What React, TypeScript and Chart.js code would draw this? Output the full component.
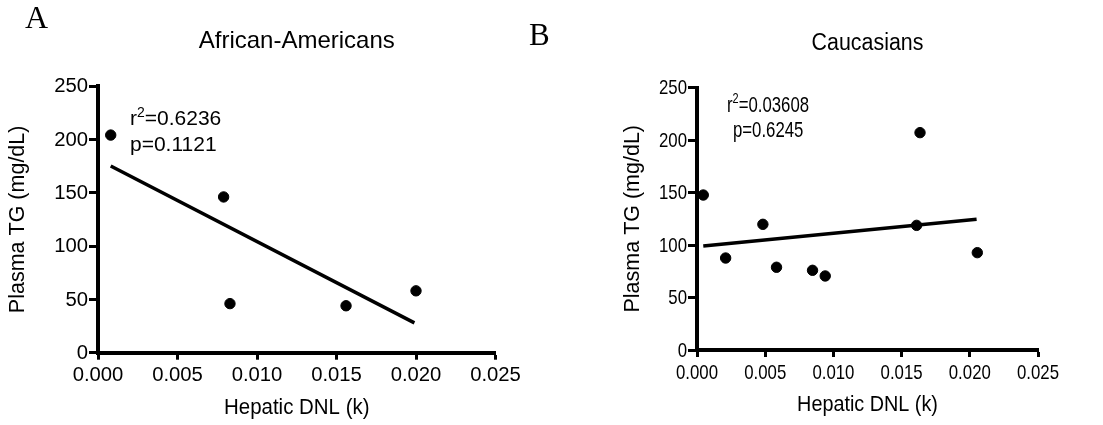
import React, { useEffect, useRef } from "react";
import { Chart, registerables } from "chart.js";

Chart.register(...registerables);

// ---- data ----
const xTickValues = [0, 0.005, 0.01, 0.015, 0.02, 0.025];
const yTickValues = [0, 50, 100, 150, 200, 250];

// Panel A: African-Americans
const aaDnl = [0.0008, 0.0079, 0.0083, 0.0156, 0.02];
const aaTg = [204, 146, 46, 44, 58];
const aaFitDnl = [0.0008, 0.0199];
const aaFitTg = [175, 28];

// Panel B: Caucasians
const caDnl = [0.00046, 0.0021, 0.00483, 0.00583, 0.00847, 0.0094, 0.0161, 0.01635, 0.02055];
const caTg = [147.6, 87.6, 119.7, 78.8, 75.9, 70.5, 118.7, 207, 92.7];
const caFitDnl = [0.00046, 0.0205];
const caFitTg = [99, 124.5];

const SANS = '"Liberation Sans", Arial, Helvetica, sans-serif';
const SERIF = '"Liberation Serif", "Times New Roman", serif';

type PanelCfg = {
  width: number;
  height: number;
  areaLeft: number;
  areaRight: number;
  areaTop: number;
  areaBottom: number;
  dnl: number[];
  tg: number[];
  fitDnl: number[];
  fitTg: number[];
  letter: string;
  letterX: number;
  letterY: number;
  letterSize: number;
  title: string;
  titleY: number;
  titleSize: number;
  titleSX: number;
  xTitle: string;
  xTitleY: number;
  xTitleSize: number;
  xTitleSX: number;
  yTitle: string;
  yTitleX: number;
  yTitleSize: number;
  tickSize: number;
  tickSX: number;
  r2: string;
  p: string;
  annX: number;
  annY1: number;
  annPX: number;
  annY2: number;
  annSize: number;
  annSX: number;
};

// draw text squeezed horizontally by sx, anchored according to align
function squeezeText(
  ctx: CanvasRenderingContext2D,
  text: string,
  x: number,
  y: number,
  sx: number,
  align: CanvasTextAlign
) {
  ctx.save();
  ctx.translate(x, y);
  ctx.scale(sx, 1);
  ctx.textAlign = align;
  ctx.fillText(text, 0, 0);
  ctx.restore();
}

function makeTextPlugin(c: PanelCfg) {
  return {
    id: "panelText",
    afterDraw(chart: any) {
      const ctx = chart.ctx as CanvasRenderingContext2D;
      const a = chart.chartArea;
      const cx = (a.left + a.right) / 2;
      const cy = (a.top + a.bottom) / 2;
      ctx.save();
      ctx.fillStyle = "#000";
      ctx.textBaseline = "alphabetic";
      // panel letter
      ctx.font = `${c.letterSize}px ${SERIF}`;
      squeezeText(ctx, c.letter, c.letterX, c.letterY, 1, "left");
      // title
      ctx.font = `${c.titleSize}px ${SANS}`;
      squeezeText(ctx, c.title, cx, c.titleY, c.titleSX, "center");
      // x axis title
      ctx.font = `${c.xTitleSize}px ${SANS}`;
      squeezeText(ctx, c.xTitle, cx, c.xTitleY, c.xTitleSX, "center");
      // y axis title
      ctx.save();
      ctx.font = `${c.yTitleSize}px ${SANS}`;
      ctx.translate(c.yTitleX, cy);
      ctx.rotate(-Math.PI / 2);
      ctx.textBaseline = "middle";
      ctx.textAlign = "center";
      ctx.fillText(c.yTitle, 0, 0);
      ctx.restore();
      // tick labels, placed by the chart's own scales
      const xs = chart.scales.x;
      const ys = chart.scales.y;
      ctx.font = `${c.tickSize}px ${SANS}`;
      ctx.textBaseline = "alphabetic";
      const xLabY = a.bottom + 9 + c.tickSize * 0.72 + 5;
      xs.ticks.forEach((t: any) => {
        squeezeText(ctx, Number(t.value).toFixed(3), xs.getPixelForValue(t.value), xLabY, c.tickSX, "center");
      });
      ctx.textBaseline = "middle";
      ys.ticks.forEach((t: any) => {
        squeezeText(ctx, String(t.value), a.left - 10, ys.getPixelForValue(t.value) + 1, c.tickSX, "right");
      });
      // annotation r^2 / p
      ctx.textBaseline = "alphabetic";
      ctx.save();
      ctx.translate(c.annX, c.annY1);
      ctx.scale(c.annSX, 1);
      ctx.textAlign = "left";
      ctx.font = `${c.annSize}px ${SANS}`;
      let x = 0;
      ctx.fillText("r", x, 0);
      x += ctx.measureText("r").width;
      ctx.font = `${Math.round(c.annSize * 0.65)}px ${SANS}`;
      ctx.fillText("2", x, -c.annSize * 0.4);
      x += ctx.measureText("2").width;
      ctx.font = `${c.annSize}px ${SANS}`;
      ctx.fillText("=" + c.r2, x, 0);
      ctx.restore();
      ctx.font = `${c.annSize}px ${SANS}`;
      squeezeText(ctx, "p=" + c.p, c.annPX, c.annY2, c.annSX, "left");
      ctx.restore();
    },
  };
}

function Panel({ c, left }: { c: PanelCfg; left: number }) {
  const ref = useRef<HTMLCanvasElement | null>(null);
  useEffect(() => {
    if (!ref.current) return;
    const points = c.dnl.map((x, i) => ({ x, y: c.tg[i] }));
    const fit = c.fitDnl.map((x, i) => ({ x, y: c.fitTg[i] }));
    const gridCfg = (len: number) => ({
      display: true,
      drawOnChartArea: false,
      drawTicks: true,
      tickLength: len,
      tickWidth: 3,
      tickColor: "#000",
      color: "#000",
    });
    const chart = new Chart(ref.current, {
      type: "scatter",
      data: {
        datasets: [
          {
            type: "line",
            data: fit,
            borderColor: "#000",
            borderWidth: 3.5,
            pointRadius: 0,
            fill: false,
            showLine: true,
            clip: false,
          } as any,
          {
            data: points,
            backgroundColor: "#000",
            borderColor: "#000",
            pointRadius: 5.2,
            pointHoverRadius: 5.2,
            clip: false,
          } as any,
        ],
      },
      options: {
        animation: false,
        responsive: false,
        devicePixelRatio: 1,
        events: [],
        layout: {
          padding: { left: 0, top: c.areaTop, right: c.width - c.areaRight, bottom: 0 },
        },
        plugins: {
          legend: { display: false },
          tooltip: { enabled: false },
          title: { display: false },
        },
        scales: {
          x: {
            type: "linear",
            position: "bottom",
            min: 0,
            max: 0.025,
            afterBuildTicks: (s: any) => {
              s.ticks = xTickValues.map((v) => ({ value: v }));
            },
            afterFit: (s: any) => {
              s.height = c.height - c.areaBottom;
            },
            ticks: { display: false },
            grid: gridCfg(7),
            border: { display: true, color: "#000", width: 4 },
          },
          y: {
            type: "linear",
            position: "left",
            min: 0,
            max: 250,
            afterBuildTicks: (s: any) => {
              s.ticks = yTickValues.map((v) => ({ value: v }));
            },
            afterFit: (s: any) => {
              s.width = c.areaLeft;
            },
            ticks: { display: false },
            grid: gridCfg(9),
            border: { display: true, color: "#000", width: 4 },
          },
        },
      } as any,
      plugins: [makeTextPlugin(c)],
    });
    return () => chart.destroy();
  }, [c]);
  return (
    <canvas
      ref={ref}
      width={c.width}
      height={c.height}
      style={{ position: "absolute", left, top: 0, width: c.width, height: c.height }}
    />
  );
}

const SPLIT = 522;

const panelA: PanelCfg = {
  width: SPLIT,
  height: 425,
  areaLeft: 98,
  areaRight: 495.5,
  areaTop: 86,
  areaBottom: 352.7,
  dnl: aaDnl,
  tg: aaTg,
  fitDnl: aaFitDnl,
  fitTg: aaFitTg,
  letter: "A",
  letterX: 25,
  letterY: 28,
  letterSize: 32,
  title: "African-Americans",
  titleY: 48,
  titleSize: 24,
  titleSX: 1,
  xTitle: "Hepatic DNL (k)",
  xTitleY: 414,
  xTitleSize: 22,
  xTitleSX: 0.93,
  yTitle: "Plasma TG (mg/dL)",
  yTitleX: 18,
  yTitleSize: 21.5,
  tickSize: 19.5,
  tickSX: 1.04,
  r2: "0.6236",
  p: "0.1121",
  annX: 130,
  annY1: 125,
  annPX: 130,
  annY2: 150.5,
  annSize: 21,
  annSX: 1,
};

const panelB: PanelCfg = {
  width: 1103 - SPLIT,
  height: 425,
  areaLeft: 697 - SPLIT,
  areaRight: 1038 - SPLIT,
  areaTop: 87.5,
  areaBottom: 350,
  dnl: caDnl,
  tg: caTg,
  fitDnl: caFitDnl,
  fitTg: caFitTg,
  letter: "B",
  letterX: 529 - SPLIT,
  letterY: 45,
  letterSize: 31,
  title: "Caucasians",
  titleY: 50,
  titleSize: 23,
  titleSX: 0.93,
  xTitle: "Hepatic DNL (k)",
  xTitleY: 411,
  xTitleSize: 22,
  xTitleSX: 0.9,
  yTitle: "Plasma TG (mg/dL)",
  yTitleX: 633 - SPLIT,
  yTitleSize: 21.5,
  tickSize: 21,
  tickSX: 0.8,
  r2: "0.03608",
  p: "0.6245",
  annX: 727 - SPLIT,
  annY1: 111.7,
  annPX: 733 - SPLIT,
  annY2: 136.7,
  annSize: 21.5,
  annSX: 0.78,
};

export default function App() {
  return (
    <div
      style={{
        position: "absolute",
        left: 0,
        top: 0,
        width: 1103,
        height: 425,
        background: "#fff",
        overflow: "hidden",
      }}
    >
      <Panel c={panelA} left={0} />
      <Panel c={panelB} left={SPLIT} />
    </div>
  );
}
